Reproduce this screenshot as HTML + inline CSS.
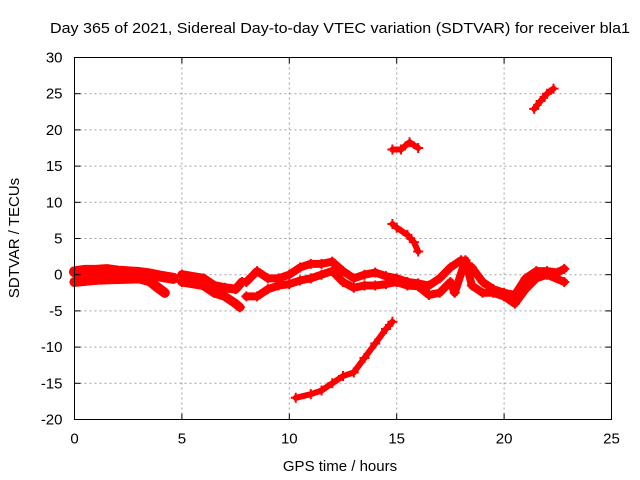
<!DOCTYPE html>
<html><head><meta charset="utf-8"><style>
body{margin:0;background:#fff}
svg{display:block;font-family:"Liberation Sans",sans-serif;font-size:14px}
</style></head><body>
<svg id="c" width="640" height="480">
<rect width="640" height="480" fill="#fff"/>
<text x="340" y="33" text-anchor="middle" textLength="580" lengthAdjust="spacingAndGlyphs" style="font-size:15px">Day 365 of 2021, Sidereal Day-to-day VTEC variation (SDTVAR) for receiver bla1</text>
<text x="340" y="471" text-anchor="middle" style="font-size:15px">GPS time / hours</text>
<text transform="translate(19,238) rotate(-90)" text-anchor="middle" style="font-size:15px">SDTVAR / TECUs</text>
<g id="grid"></g><g id="series"></g><g id="axes"></g>
</svg>
<script>
const xTicks=[0,5,10,15,20,25];
const yTicks=[-20,-15,-10,-5,0,5,10,15,20,25,30];
const bandUpperX=[0,0.5,1,1.5,2,2.5,3,3.5,4,4.6];
const bandUpperY=[0.4,0.6,0.6,0.7,0.5,0.4,0.3,0.1,-0.2,-0.5];
const bandLowerX=[0,1,2,3,3.5,3.8,4.2];
const bandLowerY=[-1,-0.7,-0.6,-0.5,-0.9,-1.6,-2.5];
const midUpperX=[5,6,6.5,7,7.5,7.8];
const midUpperY=[0,-0.5,-1.5,-1.8,-2,-1];
const midLowerX=[5,6,6.5,7,7.5,7.7];
const midLowerY=[-1,-1.5,-2.5,-3,-4,-4.5];
const mainUpperX=[8,8.5,9,9.5,10,10.5,11,11.5,12,12.5,13,13.5,14,14.5,15,15.5,16,16.5,17,17.5,18,18.5,19,19.5,20,20.5,21,21.5,22,22.5,22.8];
const mainUpperY=[-1,0.5,-0.5,-0.5,0,1,1.5,1.5,1.8,0.5,-0.5,0,0.3,-0.2,-0.5,-1,-1.2,-1.5,-0.5,1,2,1,-1,-2,-2.5,-2.8,-0.5,0.5,0.5,0.3,0.8];
const mainLowerX=[8,8.5,9,9.5,10,10.5,11,11.5,12,12.5,13,13.5,14,14.5,15,15.5,16,16.5,17,17.5,17.7,18.2,18.5,19,19.5,20,20.5,21,21.5,22,22.8];
const mainLowerY=[-3,-3,-2,-1.5,-1.3,-0.8,-0.5,0,0.5,-1,-1.8,-1.5,-1.5,-1.3,-1,-1.5,-1.6,-2.8,-2.5,-1,-2.5,2,-1.5,-2.5,-2.5,-3,-4,-2,-0.5,0,-1];
const riseX=[10.3,11,11.5,12,12.5,13,13.5,14,14.5,14.8];
const riseY=[-17,-16.5,-16,-15,-14,-13.5,-11.5,-9.5,-7.5,-6.5];
const dropX=[14.8,15,15.5,15.8,16];
const dropY=[7,6.5,5.5,4.5,3.2];
const highX=[14.8,15.2,15.6,16];
const highY=[17.3,17.3,18.3,17.5];
const topX=[21.4,21.7,22,22.3];
const topY=[22.9,24,25,25.7];
const L=74.5,R=611.5,T=57.5,B=419.5;
const sx=v=>L+(v-0)/25*(R-L);
const sy=v=>B-(v+20)/50*(B-T);
const NS='http://www.w3.org/2000/svg';
function mk(t,a,p){const e=document.createElementNS(NS,t);for(const k in a)e.setAttribute(k,a[k]);p.appendChild(e);return e;}
const grid=document.getElementById('grid'),axes=document.getElementById('axes'),ser=document.getElementById('series');
xTicks.forEach(v=>{const x=sx(v);
 if(v>0&&v<25){const g=mk('line',{x1:x,x2:x,y1:T,y2:B,stroke:'#a0a0a0','stroke-dasharray':'2,3'},grid);
 }
 mk('line',{x1:x,x2:x,y1:B,y2:B-6,stroke:'#000'},axes);mk('line',{x1:x,x2:x,y1:T,y2:T+6,stroke:'#000'},axes);
 const t=mk('text',{x:x,y:B+24,'text-anchor':'middle',style:'font-size:15px'},axes);t.textContent=v;
 });
yTicks.forEach(v=>{const y=sy(v);
 if(v>-20&&v<30){const g=mk('line',{x1:L,x2:R,y1:y,y2:y,stroke:'#a0a0a0','stroke-dasharray':'2,3'},grid);
 }
 mk('line',{x1:L,x2:L+6,y1:y,y2:y,stroke:'#000'},axes);mk('line',{x1:R,x2:R-6,y1:y,y2:y,stroke:'#000'},axes);
 const t=mk('text',{x:L-12,y:y+5,'text-anchor':'end',style:'font-size:15px'},axes);t.textContent=v;
 });
const fr=mk('rect',{x:L,y:T,width:R-L,height:B-T,fill:'none',stroke:'#000'},axes);

function track(xs,ys,w,name){
 const p=mk('polyline',{points:xs.map((x,i)=>sx(x)+','+sy(ys[i])).join(' '),fill:'none',stroke:'#f00','stroke-width':w,'stroke-linejoin':'round','stroke-linecap':'round'},ser);
 
 xs.forEach((x,i)=>{const px=sx(x),py=sy(ys[i]);
  const m=mk('path',{d:`M${px-5},${py}h10M${px},${py-5}v10`,stroke:'#f00','stroke-width':2},ser);
  });
}
track(bandUpperX,bandUpperY,11,'band-upper');
track(bandLowerX,bandLowerY,10,'band-lower');
track(midUpperX,midUpperY,9,'mid-upper');
track(midLowerX,midLowerY,9,'mid-lower');
track(mainUpperX,mainUpperY,8,'main-upper');
track(mainLowerX,mainLowerY,8,'main-lower');
track(riseX,riseY,6,'rising-arc');
track(dropX,dropY,6,'falling-arc');
track(highX,highY,6,'high-arc');
track(topX,topY,6,'top-arc');
</script>
</body></html>
